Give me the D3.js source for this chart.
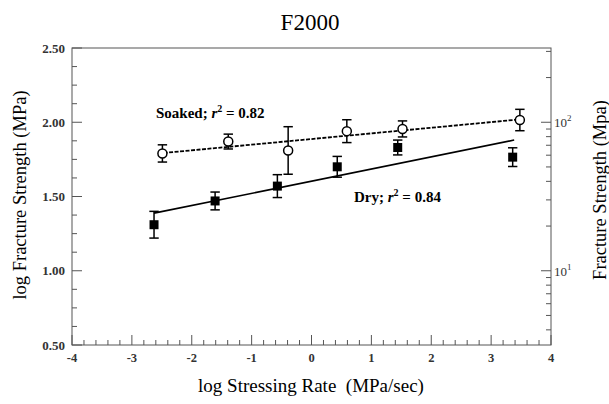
<!DOCTYPE html>
<html><head><meta charset="utf-8">
<script src="https://cdn.jsdelivr.net/npm/d3@7"></script>
<style>body{margin:0;background:#fff}svg{display:block}text{font-family:"Liberation Serif","Times New Roman",serif;white-space:pre}</style>
</head><body><svg id="c" width="609" height="404"></svg>
<script>
const title = "F2000";
const xTicks = [-4,-3,-2,-1,0,1,2,3,4];
const yTicks = [0.5,1.0,1.5,2.0,2.5];
const dryX = [-2.63,-1.61,-0.57,0.43,1.44,3.36];
const dryY = [1.31,1.47,1.57,1.70,1.83,1.765];
const dryErr = [0.09,0.06,0.077,0.07,0.05,0.063];
const soakX = [-2.49,-1.39,-0.39,0.59,1.52,3.48];
const soakY = [1.79,1.87,1.81,1.94,1.955,2.015];
const soakErr = [0.058,0.05,0.16,0.077,0.054,0.072];
const dryFit = {x0:-2.63, x1:3.385, slope:0.0818, intercept:1.603};
const soakFit = {x0:-2.47, x1:3.485, slope:0.038, intercept:1.887};
const rightMajor = [10,100];
const rightMinor = [4,5,6,7,8,9,20,30,40,50,60,70,80,90,200,300];

const svg = d3.select("#c");
const L=72,R=551,T=48,B=345;
const x = d3.scaleLinear().domain([-4,4]).range([L,R]);
const y = d3.scaleLinear().domain([0.5,2.5]).range([B,T]);
const yr = d3.scaleLog().domain([Math.pow(10,0.5),Math.pow(10,2.5)]).range([B,T]);

svg.append("rect").attr("x",L).attr("y",T).attr("width",R-L).attr("height",B-T)
  .attr("fill","none").attr("stroke","#555").attr("stroke-width",1);

const g = svg.append("g").attr("stroke","#555").attr("stroke-width",1);
d3.range(-4,4.001,0.2).forEach(v=>{
  const major = Math.abs(v-Math.round(v))<1e-6;
  g.append("line").attr("x1",x(v)).attr("x2",x(v)).attr("y1",B).attr("y2",B-(major?10:5));
});
d3.range(0.5,2.5001,0.125).forEach(v=>{
  const major = Math.abs(v*2-Math.round(v*2))<1e-6;
  g.append("line").attr("x1",L).attr("x2",L+(major?10:5)).attr("y1",y(v)).attr("y2",y(v));
});
rightMajor.forEach(v=>g.append("line").attr("x1",R).attr("x2",R-10).attr("y1",yr(v)).attr("y2",yr(v)));
rightMinor.forEach(v=>g.append("line").attr("x1",R).attr("x2",R-5).attr("y1",yr(v)).attr("y2",yr(v)));

svg.selectAll(".xt").data(xTicks).join("text").attr("x",d=>x(d)).attr("y",362)
  .attr("text-anchor","middle").attr("font-size",12.5).attr("font-weight","bold").attr("fill","#333").text(d=>d);
svg.selectAll(".yt").data(yTicks).join("text").attr("x",65).attr("y",d=>y(d)+4.5)
  .attr("text-anchor","end").attr("font-size",13).attr("font-weight","bold").attr("fill","#333").text(d=>d.toFixed(2));
rightMajor.forEach(v=>{
  const t = svg.append("text").attr("x",554).attr("y",yr(v)+5).attr("font-size",13).attr("fill","#333");
  t.append("tspan").text("10");
  t.append("tspan").attr("dy",-6).attr("font-size",9).text(Math.round(Math.log10(v)));
});

svg.append("text").attr("x",310).attr("y",30).attr("text-anchor","middle").attr("font-size",23).text(title);
svg.append("text").attr("x",311).attr("y",392).attr("text-anchor","middle").attr("font-size",19).text("log Stressing Rate  (MPa/sec)");
svg.append("text").attr("transform","translate(26,195) rotate(-90)").attr("text-anchor","middle").attr("font-size",18.5).text("log Fracture Strength (MPa)");
svg.append("text").attr("transform","translate(606,190) rotate(-90)").attr("text-anchor","middle").attr("font-size",18.5).text("Fracture Strength (Mpa)");

const line = d3.line().x(d=>x(d[0])).y(d=>y(d[1]));
svg.append("path").attr("d",line([[dryFit.x0,dryFit.intercept+dryFit.slope*dryFit.x0],[dryFit.x1,dryFit.intercept+dryFit.slope*dryFit.x1]]))
  .attr("stroke","#000").attr("stroke-width",1.6).attr("fill","none");
svg.append("path").attr("d",line([[soakFit.x0,soakFit.intercept+soakFit.slope*soakFit.x0],[soakFit.x1,soakFit.intercept+soakFit.slope*soakFit.x1]]))
  .attr("stroke","#000").attr("stroke-width",1.8).attr("stroke-dasharray","4,1.5").attr("fill","none");

function errBars(xs,ys,es){
  const eg = svg.append("g").attr("stroke","#000").attr("stroke-width",1.5);
  xs.forEach((xv,i)=>{
    const cx=x(xv), t=y(ys[i]+es[i]), b=y(ys[i]-es[i]);
    eg.append("line").attr("x1",cx).attr("x2",cx).attr("y1",t).attr("y2",b);
    eg.append("line").attr("x1",cx-4.7).attr("x2",cx+4.7).attr("y1",t).attr("y2",t);
    eg.append("line").attr("x1",cx-4.7).attr("x2",cx+4.7).attr("y1",b).attr("y2",b);
  });
}
errBars(dryX,dryY,dryErr);
errBars(soakX,soakY,soakErr);
svg.selectAll(".dry").data(dryX).join("rect").attr("x",(d)=>x(d)-4.5).attr("y",(d,i)=>y(dryY[i])-4.5)
  .attr("width",9).attr("height",9).attr("fill","#000");
svg.selectAll(".soak").data(soakX).join("circle").attr("cx",d=>x(d)).attr("cy",(d,i)=>y(soakY[i]))
  .attr("r",4.5).attr("fill","#fff").attr("stroke","#000").attr("stroke-width",1.5);

function ann(xp,yp,name,r2){
  const t = svg.append("text").attr("x",xp).attr("y",yp).attr("font-size",15).attr("font-weight","bold");
  t.append("tspan").text(name+"; ");
  t.append("tspan").attr("font-style","italic").text("r");
  t.append("tspan").attr("dy",-6).attr("font-size",10).text("2");
  t.append("tspan").attr("dy",6).text(" = "+r2);
}
ann(156,118,"Soaked","0.82");
ann(354,202,"Dry","0.84");
</script></body></html>
